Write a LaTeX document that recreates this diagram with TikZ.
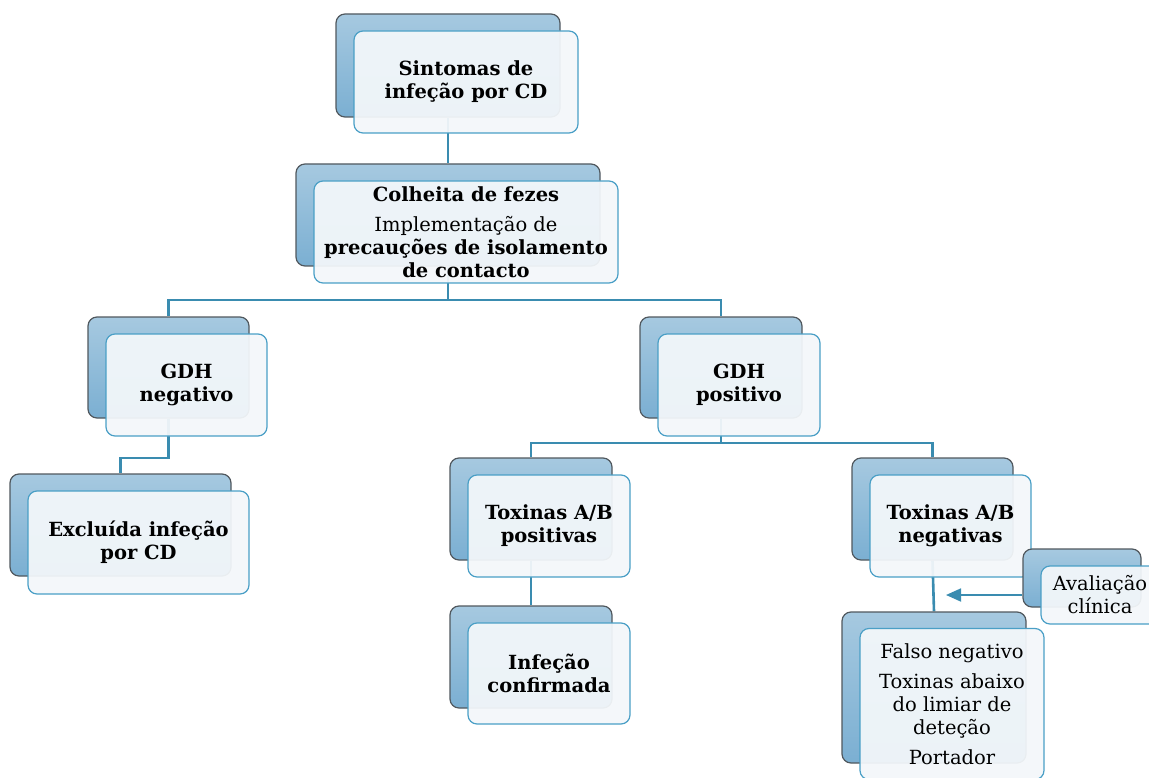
\documentclass[tikz,border=0pt]{standalone}
\usepackage{fontspec}
\setmainfont{DejaVu Serif}
\usetikzlibrary{arrows.meta}
\definecolor{backtop}{HTML}{A6C9E0}
\definecolor{backbot}{HTML}{7BAFD2}
\definecolor{backline}{HTML}{50585E}
\definecolor{frontfill}{HTML}{F3F7FA}
\definecolor{frontline}{HTML}{4A9FC6}
\definecolor{linkcol}{HTML}{3A8CB0}
\pgfdeclarelayer{background}
\pgfsetlayers{background,main}

\begin{document}
\begin{tikzpicture}[x=1pt,y=-1pt]
    \tikzstyle{backbox}=[rectangle, rounded corners=9pt, draw=backline,
    line width=1.2pt, top color=backtop, bottom color=backbot, inner sep=0pt]
    \tikzstyle{frontbox}=[rectangle, rounded corners=9pt, draw=frontline,
    line width=1.2pt, fill=frontfill, fill opacity=0.94, text opacity=1,
    inner sep=0pt, align=center, font=\fontsize{19.5}{23}\selectfont]
    \tikzstyle{frontbold}=[frontbox, font=\fontsize{19.5}{23}\selectfont\bfseries]
    \tikzstyle{link}=[draw=linkcol, line width=2.6pt]
    \useasboundingbox (0,0) rectangle (1149,778);

    \node[backbox, minimum width=224pt, minimum height=103pt] (sintB) at (448,65.5) {};
    \node[frontbold, minimum width=224pt, minimum height=102pt] (sint) at (466,82)
        {Sintomas de\\infeção por CD};

    \node[backbox, minimum width=304pt, minimum height=102pt] (colB) at (448,215) {};
    \node[frontbox, minimum width=304pt, minimum height=102pt] (col) at (466,232)
        {\textbf{Colheita de fezes}\\[7pt]Implementação de\\
         \textbf{precauções de isolamento}\\\textbf{de contacto}};

    \node[backbox, minimum width=161pt, minimum height=101pt] (gdhnB) at (168.5,367.5) {};
    \node[frontbold, minimum width=161pt, minimum height=102pt] (gdhn) at (186.5,385)
        {GDH\\negativo};

    \node[backbox, minimum width=162pt, minimum height=101pt] (gdhpB) at (721,367.5) {};
    \node[frontbold, minimum width=162pt, minimum height=102pt] (gdhp) at (739,385)
        {GDH\\positivo};

    \node[backbox, minimum width=221pt, minimum height=102pt] (exB) at (120.5,525) {};
    \node[frontbold, minimum width=221pt, minimum height=103pt] (ex) at (138.5,542.5)
        {Excluída infeção\\por CD};

    \node[backbox, minimum width=162pt, minimum height=102pt] (toxpB) at (531,509) {};
    \node[frontbold, minimum width=162pt, minimum height=102pt] (toxp) at (549,526)
        {Toxinas A/B\\positivas};

    \node[backbox, minimum width=161pt, minimum height=102pt] (toxnB) at (932.5,509) {};
    \node[frontbold, minimum width=161pt, minimum height=102pt] (toxn) at (950.5,526)
        {Toxinas A/B\\negativas};

    \node[backbox, minimum width=118pt, minimum height=58pt] (avB) at (1082,578) {};
    \node[frontbox, minimum width=118pt, minimum height=58pt] (av) at (1100,595)
        {Avaliação\\clínica};

    \node[backbox, minimum width=162pt, minimum height=102pt] (infB) at (531,657) {};
    \node[frontbold, minimum width=162pt, minimum height=101pt] (inf) at (549,673.5)
        {Infeção\\confirmada};

    \node[backbox, minimum width=184pt, minimum height=151pt] (falB) at (934,687.5) {};
    \node[frontbox, minimum width=184pt, minimum height=151pt] (fal) at (952,704)
        {Falso negativo\\[7pt]Toxinas abaixo\\do limiar de\\deteção\\[7pt]Portador};

    \begin{pgfonlayer}{background}
        \coordinate (bus1) at (448,300);
        \coordinate (bus2) at (168.5,458);
        \coordinate (bus3) at (721,443);
        \path[link] (sintB.south) -- (colB.north);
        \path[link] (colB.south) |- (bus1) -| (gdhnB.north);
        \path[link] (bus1) -| (gdhpB.north);
        \path[link] (gdhnB.south) -- (bus2) -| (exB.north);
        \path[link] (gdhpB.south) -- (bus3) -| (toxpB.north);
        \path[link] (bus3) -| (toxnB.north);
        \path[link] (toxpB.south) -- (infB.north);
        \path[link] (toxnB.south) -- (falB.north);
    \end{pgfonlayer}

    \coordinate (avtip) at (946,595);
    \path[link, line width=1.8pt, -{Triangle[length=15pt,width=13pt]}]
        (avB.west |- av.center) -- (avtip);
\end{tikzpicture}
\end{document}
